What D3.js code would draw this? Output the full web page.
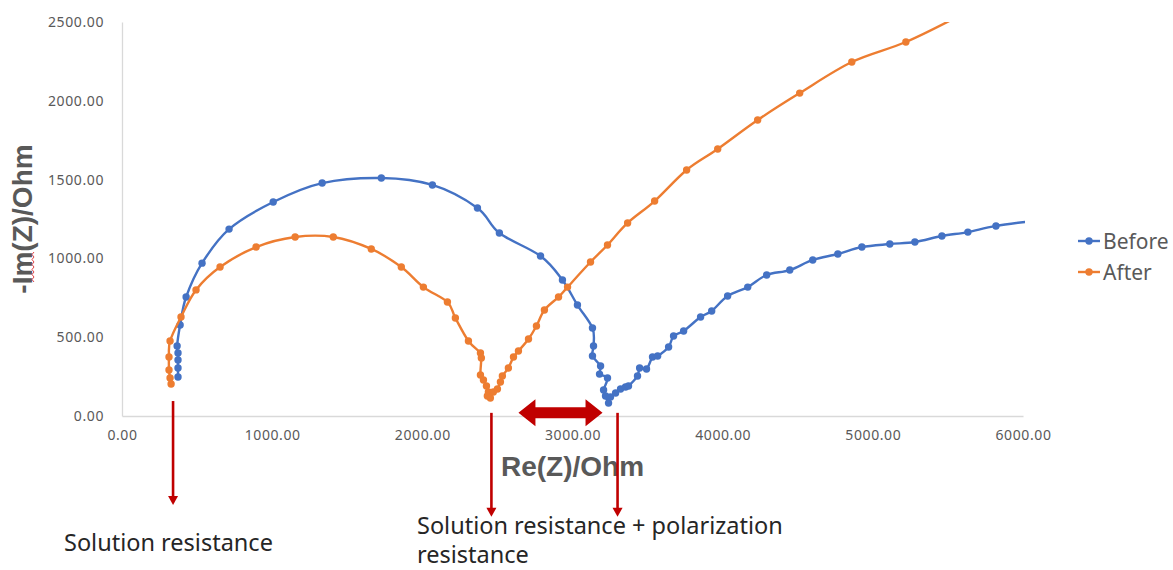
<!DOCTYPE html>
<html>
<head>
<meta charset="utf-8">
<script src="https://cdn.jsdelivr.net/npm/d3@7"></script>
<style>
  body { margin: 0; background: #ffffff; }
  svg { display: block; }
  .tick text { font-family: 'Noto Sans', sans-serif; font-size: 14px; fill: #595959; letter-spacing: 0.6px; }
  .axis-title { font-family: 'Liberation Sans', Arial, sans-serif; font-weight: bold; font-size: 28px; fill: #595959; }
  .legend-label { font-family: 'Noto Sans', sans-serif; font-size: 21px; fill: #595959; }
  .note { font-family: 'Noto Sans', sans-serif; font-size: 23.5px; fill: #262626; }
</style>
</head>
<body>
<div id="eis-viz"></div>
<script>
// Nyquist data (Ohm)
const beforeRe = [373, 373, 373, 373, 367, 387, 427, 533, 713, 1007, 1333, 1727, 2067, 2367, 2513, 2787, 2933, 3033, 3133, 3140, 3133, 3187, 3180, 3233, 3207, 3220, 3240, 3253, 3287, 3320, 3353, 3373, 3433, 3447, 3493, 3533, 3567, 3640, 3673, 3740, 3853, 3927, 4033, 4167, 4293, 4447, 4600, 4767, 4927, 5113, 5280, 5460, 5633, 5820, 6120];
const beforeIm = [247, 305, 355, 400, 444, 577, 755, 970, 1186, 1358, 1478, 1510, 1466, 1320, 1161, 1015, 863, 704, 558, 444, 381, 317, 266, 241, 165, 127, 82, 121, 146, 171, 184, 190, 254, 305, 298, 374, 381, 438, 508, 539, 628, 666, 761, 818, 895, 926, 990, 1028, 1072, 1091, 1104, 1142, 1167, 1206, 1244];

const afterRe = [327, 320, 313, 313, 320, 393, 493, 653, 893, 1153, 1407, 1660, 1860, 2007, 2167, 2220, 2307, 2387, 2393, 2387, 2407, 2427, 2440, 2433, 2453, 2473, 2500, 2520, 2533, 2573, 2607, 2640, 2707, 2760, 2813, 2907, 2967, 3120, 3233, 3367, 3547, 3760, 3967, 4233, 4513, 4860, 5220, 5573];
const afterIm = [203, 241, 292, 374, 476, 628, 800, 945, 1072, 1136, 1136, 1060, 945, 818, 723, 622, 476, 400, 368, 260, 228, 190, 152, 127, 114, 152, 171, 216, 254, 305, 374, 412, 489, 571, 673, 755, 818, 977, 1085, 1225, 1364, 1561, 1694, 1878, 2049, 2246, 2373, 2538];

const xTicks = [0, 1000, 2000, 3000, 4000, 5000, 6000];
const yTicks = [0, 500, 1000, 1500, 2000, 2500];

const seriesNames = ['Before', 'After'];
const seriesColors = ['#4472C4', '#ED7D31'];

// annotation anchors (Re value where each arrow sits)
const arrowRe = [340, 2460, 3300];
const arrowTopIm = [95, 20, 20];
const gapArrowRe = [2640, 3200];
const gapArrowIm = 20;

const zip = (xs, ys) => xs.map((x, i) => ({ re: x, im: ys[i] }));
const series = [zip(beforeRe, beforeIm), zip(afterRe, afterIm)];

const totalWidth = 1173;
const totalHeight = 570;
const plot = { left: 122, right: 1023, top: 22, bottom: 416 };
const red = '#C00000';

const xScale = d3.scaleLinear().domain([0, 6000]).range([plot.left, plot.right]);
const yScale = d3.scaleLinear().domain([0, 2500]).range([plot.bottom, plot.top]);

const svg = d3
  .select('#eis-viz')
  .append('svg')
  .attr('width', totalWidth)
  .attr('height', totalHeight);

svg.append('defs')
  .append('clipPath')
  .attr('id', 'plot-clip')
  .append('rect')
  .attr('x', plot.left)
  .attr('y', plot.top)
  .attr('width', plot.right - plot.left + 2)
  .attr('height', plot.bottom - plot.top);

// x axis
const xAxis = svg
  .append('g')
  .attr('transform', `translate(0, ${plot.bottom})`)
  .call(d3.axisBottom(xScale).tickValues(xTicks).tickFormat(d3.format('.2f')).tickSize(0).tickPadding(14));
xAxis.select('.domain').attr('stroke', '#d9d9d9').attr('stroke-width', 1.3);

// y axis
const yAxis = svg
  .append('g')
  .attr('transform', `translate(${plot.left}, 0)`)
  .call(d3.axisLeft(yScale).tickValues(yTicks).tickFormat(d3.format('.2f')).tickSize(0).tickPadding(18));
yAxis.select('.domain').attr('stroke', '#d9d9d9').attr('stroke-width', 1.3);

// axis titles
svg.append('text')
  .attr('class', 'axis-title')
  .attr('text-anchor', 'middle')
  .attr('x', (plot.left + plot.right) / 2)
  .attr('y', 476)
  .text('Re(Z)/Ohm');

svg.append('text')
  .attr('class', 'axis-title')
  .attr('text-anchor', 'middle')
  .attr('transform', `translate(32, ${(plot.top + plot.bottom) / 2}) rotate(-90)`)
  .text('-Im(Z)/Ohm');

// spell-check squiggle under "m"
svg.append('path')
  .attr('d', 'M34,252 l-2,2.5 l2,2.5 l-2,2.5 l2,2.5 l-2,2.5 l2,2.5 l-2,2.5 l2,2.5 l-2,2.5 l2,2.5 l-2,2.5 l2,2.5')
  .attr('fill', 'none')
  .attr('stroke', '#e03030')
  .attr('stroke-width', 0.9);

// series lines + markers
const line = d3.line()
  .x((d) => xScale(d.re))
  .y((d) => yScale(d.im))
  .curve(d3.curveCatmullRom.alpha(0));

const plotArea = svg.append('g').attr('clip-path', 'url(#plot-clip)');

series.forEach((data, i) => {
  plotArea.append('path')
    .datum(data)
    .attr('fill', 'none')
    .attr('stroke', seriesColors[i])
    .attr('stroke-width', 2.4)
    .attr('d', line);

  plotArea.selectAll(`.dot-${i}`)
    .data(data)
    .join('circle')
    .attr('class', `dot-${i}`)
    .attr('cx', (d) => xScale(d.re))
    .attr('cy', (d) => yScale(d.im))
    .attr('r', 3.7)
    .attr('fill', seriesColors[i]);
});

// legend
seriesNames.forEach((name, i) => {
  const y = 241 + i * 31;
  svg.append('line')
    .attr('x1', 1078).attr('x2', 1100)
    .attr('y1', y).attr('y2', y)
    .attr('stroke', seriesColors[i])
    .attr('stroke-width', 2.4);
  svg.append('circle')
    .attr('cx', 1089).attr('cy', y).attr('r', 3.7)
    .attr('fill', seriesColors[i]);
  svg.append('text')
    .attr('class', 'legend-label')
    .attr('x', 1103)
    .attr('y', y)
    .attr('dy', '0.36em')
    .text(name);
});

// down arrows
arrowRe.forEach((re, i) => {
  const x = xScale(re);
  const y0 = yScale(arrowTopIm[i]);
  const y1 = y0 + 104;
  svg.append('line')
    .attr('x1', x).attr('x2', x)
    .attr('y1', y0).attr('y2', y1 - 7)
    .attr('stroke', red)
    .attr('stroke-width', 2.6);
  svg.append('path')
    .attr('d', `M${x - 5},${y1 - 9} L${x + 5},${y1 - 9} L${x},${y1} Z`)
    .attr('fill', red);
});

// double block arrow between the two minima
const ax0 = xScale(gapArrowRe[0]);
const ax1 = xScale(gapArrowRe[1]);
const ay = yScale(gapArrowIm);
const headLen = 17;
const shaft = 5.5;
const head = 13.5;
svg.append('path')
  .attr('d', [
    `M${ax0},${ay}`,
    `L${ax0 + headLen},${ay - head}`,
    `L${ax0 + headLen},${ay - shaft}`,
    `L${ax1 - headLen},${ay - shaft}`,
    `L${ax1 - headLen},${ay - head}`,
    `L${ax1},${ay}`,
    `L${ax1 - headLen},${ay + head}`,
    `L${ax1 - headLen},${ay + shaft}`,
    `L${ax0 + headLen},${ay + shaft}`,
    `L${ax0 + headLen},${ay + head}`,
    'Z',
  ].join(' '))
  .attr('fill', red);

// notes
svg.append('text').attr('class', 'note').attr('x', 64).attr('y', 551).text('Solution resistance');
svg.append('text').attr('class', 'note').attr('x', 417).attr('y', 534).text('Solution resistance + polarization');
svg.append('text').attr('class', 'note').attr('x', 417).attr('y', 563).text('resistance');
</script>
</body>
</html>
